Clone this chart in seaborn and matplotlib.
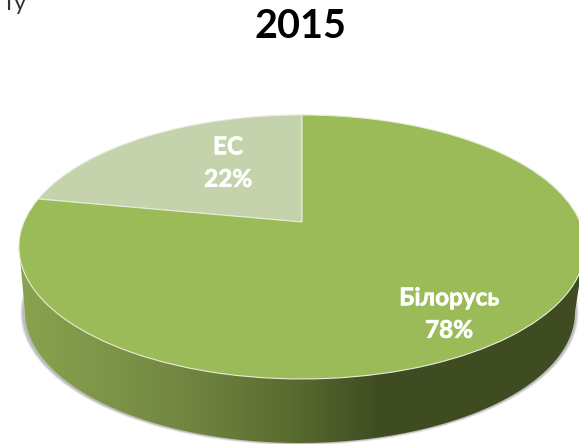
#!/usr/bin/env python3
# -*- coding: utf-8 -*-

import numpy as np
import matplotlib as mpl
import matplotlib.pyplot as plt
import matplotlib.patheffects as pe
from matplotlib.patches import Ellipse, PathPatch
from matplotlib.path import Path
from matplotlib.transforms import Transform
import seaborn as sns

mpl.use("Agg")

sns.set_theme(style="white")
plt.rcParams["font.family"] = ["Lato", "Open Sans", "DejaVu Sans"]

title = "2015"
stray_text = "ту"
categories = ["ЕС", "Білорусь"]
shares = [22, 78]
wedge_colors = ["#c4d3ab", "#9bbb59"]
wall_colors = ["#88a34e", "#7d9448", "#6f833f", "#5a6c30", "#3f4c21"]

W, H = 579, 444


class Tilt(Transform):
    # flat pie -> tilted pie, with the perspective of the 3d original
    input_dims = 2
    output_dims = 2
    is_separable = False

    def transform_non_affine(self, values):
        v = np.asarray(values, dtype=float)
        s = 1.0 / (1.0 + 0.189 * v[:, 1])
        return np.column_stack([302 + 278 * v[:, 0] * s, 222 - 127.3 * v[:, 1] * s])


fig = plt.figure(figsize=(W / 100, H / 100), dpi=100)
ax = fig.add_axes([0, 0, 1, 1])

# soft shadow under the wall
ax.add_patch(Ellipse((299.5, 313), 558, 264, fc="#e2e2e2", ec="none", zorder=1))
ax.add_patch(Ellipse((299.5, 313), 555, 262, fc="#bdbdbd", ec="none", zorder=1))

# wall: gradient clipped between the top edge and a slightly smaller bottom edge
t = np.linspace(np.pi, 0, 200)
verts = np.column_stack(
    [
        np.r_[300 + 275 * np.cos(t), (302 + 283 * np.cos(t))[::-1]],
        np.r_[312 + 131 * np.sin(t), (247 + 132 * np.sin(t))[::-1]],
    ]
)
wall = PathPatch(Path(verts), fc="none", ec="none")
ax.add_patch(wall)
grad = np.array(sns.blend_palette(wall_colors, 400))[None, :, :]
img = ax.imshow(grad, extent=(20, 380, H, 240), aspect="auto", zorder=2)
img.set_clip_path(wall)
dark = ax.imshow(
    np.array(sns.blend_palette(wall_colors[-1:] * 2, 2))[None, :, :],
    extent=(380, 590, H, 240),
    aspect="auto",
    zorder=2,
)
dark.set_clip_path(wall)

wedges, _ = ax.pie(
    shares,
    colors=wedge_colors,
    startangle=90,
    wedgeprops={"edgecolor": "#e6ecd8", "linewidth": 0.8, "zorder": 3},
    frame=False,
)
tilt = Tilt()
for w in wedges:
    w.set_transform(tilt + ax.transData)
ax.set_aspect("auto")
ax.set_xlim(0, W)
ax.set_ylim(H, 0)
ax.axis("off")

bold = [pe.withStroke(linewidth=0.5, foreground="white")]
ax.text(228, 163, f"{categories[0]}\n{shares[0]}%", color="white", fontsize=17.5,
        fontweight="bold", ha="center", va="center", linespacing=1.5, zorder=4,
        path_effects=bold)
ax.text(449, 314, f"{categories[1]}\n{shares[1]}%", color="white", fontsize=17.5,
        fontweight="bold", ha="center", va="center", linespacing=1.5, zorder=4,
        path_effects=bold)

ax.text(300, 27, title, color="black", fontsize=28.5, fontweight="bold",
        ha="center", va="center", zorder=4)
ax.text(3, 3, stray_text, color="#333333", fontsize=17, ha="left", va="center", zorder=4)

fig.savefig("out.png", dpi=100)
